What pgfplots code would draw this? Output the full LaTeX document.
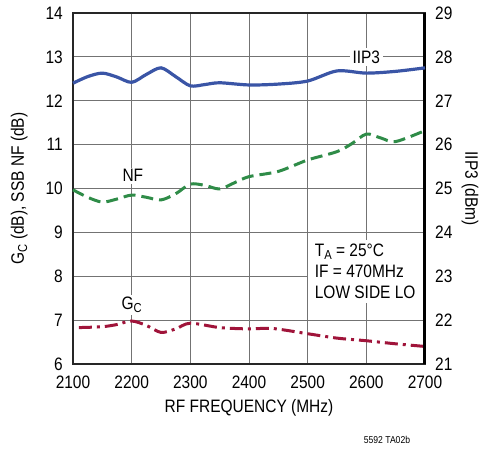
\documentclass[border=0pt]{standalone}
\usepackage{pgfplots}
\pgfplotsset{compat=1.18}
\usepackage{fontspec}
\setmainfont{Liberation Sans}[FakeStretch=0.86]
\newcommand\f{\fontsize{18}{21}\selectfont}
\definecolor{cblue}{RGB}{58,85,166}
\definecolor{cgreen}{RGB}{47,140,72}
\definecolor{cred}{RGB}{160,20,58}
\begin{document}
\begin{tikzpicture}
\useasboundingbox (0,0) rectangle (492pt,453pt);
\pgfplotsset{
  common/.style={
    at={(73pt,89pt)}, anchor=south west, scale only axis,
    width=352pt, height=351pt,
    xmin=2100, xmax=2700,
    /pgf/number format/assume math mode=true,
    /pgf/number format/set thousands separator={},
    tick style={draw=none},
    ticklabel style={font=\f, inner sep=0pt},
    clip=false,
  }
}
\begin{axis}[common,
  ymin=6, ymax=14,
  xtick={2100,2200,...,2700}, ytick={6,7,...,14},
  grid=major, major grid style={black!55, line width=0.9pt},
  axis line style={line width=1.3pt, black!85},
  yticklabel style={anchor=east, xshift=-10pt},
  xticklabel style={anchor=north, yshift=-12pt},
  xlabel={RF FREQUENCY (MHz)},
  xlabel style={font=\f, at={(axis description cs:0.5,-0.125)}, anchor=center},
  ylabel={G\raisebox{-0.35ex}{\fontsize{13}{13}\selectfont C} (dB), SSB NF (dB)},
  ylabel style={font=\f, at={(axis description cs:-0.153,0.5)}, anchor=center},
]
\addplot[cgreen, line width=3pt, smooth, dash pattern=on 12pt off 6pt] coordinates {
(2100,9.97) (2125,9.80) (2150,9.69) (2175,9.76) (2200,9.85) (2225,9.80) (2250,9.74)
(2275,9.88) (2300,10.10) (2325,10.07) (2350,9.99) (2375,10.13) (2400,10.27)
(2450,10.39) (2500,10.65) (2550,10.84) (2575,11.02) (2600,11.24) (2625,11.15)
(2650,11.07) (2700,11.32)};
\addplot[cred, line width=3pt, smooth, dash pattern=on 13pt off 5pt on 3pt off 5pt] coordinates {
(2110,6.83) (2150,6.85) (2175,6.90) (2200,6.98) (2225,6.88) (2250,6.72) (2275,6.80)
(2300,6.93) (2350,6.83) (2400,6.80) (2440,6.81) (2500,6.69) (2550,6.59)
(2600,6.53) (2650,6.46) (2700,6.40)};
\node[font=\f, fill=white, inner sep=2pt] at (axis cs:2202,10.29) {NF};
\node[font=\f, fill=white, inner sep=2pt] at (axis cs:2200,7.35) {G\raisebox{-0.35ex}{\fontsize{13}{13}\selectfont C}};
\node[font=\f, fill=white, inner sep=3pt] at (axis cs:2600,13.0) {IIP3};
\node[font=\f, fill=white, anchor=north west, inner xsep=7pt, inner ysep=4pt, align=left]
  at (axis cs:2500,8.83) {T\raisebox{-0.35ex}{\fontsize{13}{13}\selectfont A} = 25°C\\[0pt] IF = 470MHz\\[0pt] LOW SIDE LO};
\node[font=\fontsize{10}{12}\selectfont] at (axis description cs:0.892,-0.217) {5592 TA02b};
\end{axis}
\begin{axis}[common,
  ymin=21, ymax=29,
  ytick={21,22,...,29},
  axis x line=none, axis y line*=right,
  axis line style={line width=3pt, black, -},
  yticklabel style={anchor=west, xshift=10pt},
  ylabel={IIP3 (dBm)},
  ylabel style={font=\f, at={(axis description cs:1.128,0.5)}, anchor=center, rotate=-180},
]
\addplot[cblue, line width=3.2pt, smooth] coordinates {
(2100,27.40) (2125,27.55) (2150,27.63) (2175,27.54) (2200,27.42) (2225,27.60)
(2250,27.75) (2275,27.55) (2300,27.34) (2325,27.37) (2350,27.41) (2400,27.36)
(2450,27.38) (2500,27.45) (2550,27.68) (2600,27.63) (2650,27.67) (2700,27.75)};
\end{axis}
\end{tikzpicture}
\end{document}
